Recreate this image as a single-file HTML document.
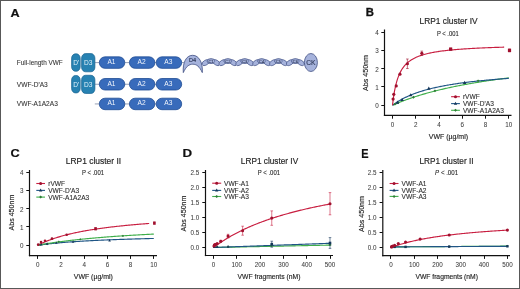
<!DOCTYPE html>
<html><head><meta charset="utf-8"><style>
html,body{margin:0;padding:0;background:#fff;}
body{width:520px;height:289px;overflow:hidden;font-family:"Liberation Sans", sans-serif;}
svg{display:block;will-change:transform;filter:blur(0.35px);}
</style></head><body>
<svg width="520" height="289" viewBox="0 0 520 289" font-family='"Liberation Sans", sans-serif'>
<rect x="0" y="0" width="520" height="289" fill="#ffffff"/>
<text x="10.40" y="16.50" font-size="11.8" text-anchor="start" font-weight="bold" font-style="normal" fill="#111" stroke="#111" stroke-width="0.2" textLength="9.15" lengthAdjust="spacingAndGlyphs" >A</text>
<text x="365.70" y="16.10" font-size="11.3" text-anchor="start" font-weight="bold" font-style="normal" fill="#111" stroke="#111" stroke-width="0.3" >B</text>
<text x="10.60" y="157.20" font-size="11.8" text-anchor="start" font-weight="bold" font-style="normal" fill="#111" stroke="#111" stroke-width="0.2" textLength="9.2" lengthAdjust="spacingAndGlyphs" >C</text>
<text x="182.60" y="156.90" font-size="11.8" text-anchor="start" font-weight="bold" font-style="normal" fill="#111" stroke="#111" stroke-width="0.2" textLength="9.6" lengthAdjust="spacingAndGlyphs" >D</text>
<text x="361.20" y="157.50" font-size="12.6" text-anchor="start" font-weight="bold" font-style="normal" fill="#111" stroke="#111" stroke-width="0.2" textLength="7.3" lengthAdjust="spacingAndGlyphs" >E</text>
<text x="16.80" y="64.50" font-size="6.8" text-anchor="start" font-weight="normal" font-style="normal" fill="#333" stroke="#333" stroke-width="0.08" textLength="45.9" lengthAdjust="spacingAndGlyphs" >Full-length VWF</text>
<text x="16.80" y="86.80" font-size="6.8" text-anchor="start" font-weight="normal" font-style="normal" fill="#333" stroke="#333" stroke-width="0.08" textLength="31" lengthAdjust="spacingAndGlyphs" >VWF-D'A3</text>
<text x="16.80" y="106.20" font-size="6.8" text-anchor="start" font-weight="normal" font-style="normal" fill="#333" stroke="#333" stroke-width="0.08" textLength="41" lengthAdjust="spacingAndGlyphs" >VWF-A1A2A3</text>
<line x1="94.50" y1="62.60" x2="99.50" y2="62.60" stroke="#6d7a98" stroke-width="0.7"/>
<line x1="94.50" y1="84.25" x2="99.50" y2="84.25" stroke="#6d7a98" stroke-width="0.7"/>
<line x1="94.80" y1="103.95" x2="99.50" y2="103.95" stroke="#6d7a98" stroke-width="0.7"/>
<line x1="124.50" y1="62.60" x2="129.50" y2="62.60" stroke="#6d7a98" stroke-width="0.7"/>
<line x1="154.50" y1="62.60" x2="156.50" y2="62.60" stroke="#6d7a98" stroke-width="0.7"/>
<line x1="124.50" y1="84.25" x2="129.50" y2="84.25" stroke="#6d7a98" stroke-width="0.7"/>
<line x1="154.50" y1="84.25" x2="156.50" y2="84.25" stroke="#6d7a98" stroke-width="0.7"/>
<line x1="124.50" y1="103.95" x2="129.50" y2="103.95" stroke="#6d7a98" stroke-width="0.7"/>
<line x1="154.50" y1="103.95" x2="156.50" y2="103.95" stroke="#6d7a98" stroke-width="0.7"/>
<line x1="181.50" y1="62.60" x2="184.00" y2="62.60" stroke="#6d7a98" stroke-width="0.7"/>
<rect x="71.60" y="53.80" width="8.60" height="17.50" rx="4" ry="4.5" fill="#2782b2" stroke="#17628f" stroke-width="0.7"/>
<text x="76.20" y="64.90" font-size="6.6" text-anchor="middle" font-weight="normal" font-style="normal" fill="#dff1fa" >D'</text>
<rect x="81.60" y="53.60" width="13.30" height="18.20" rx="4" ry="4.5" fill="#2782b2" stroke="#17628f" stroke-width="0.7"/>
<text x="88.25" y="65.05" font-size="6.6" text-anchor="middle" font-weight="normal" font-style="normal" fill="#dff1fa" >D3</text>
<rect x="99.30" y="56.85" width="25.50" height="11.50" rx="5.75" ry="5.75" fill="#386bbb" stroke="#1f4c94" stroke-width="0.8"/>
<text x="111.45" y="63.85" font-size="6.6" text-anchor="middle" font-weight="normal" font-style="normal" fill="#f2f6fc" >A1</text>
<rect x="129.40" y="56.85" width="25.50" height="11.50" rx="5.75" ry="5.75" fill="#386bbb" stroke="#1f4c94" stroke-width="0.8"/>
<text x="141.55" y="63.85" font-size="6.6" text-anchor="middle" font-weight="normal" font-style="normal" fill="#f2f6fc" >A2</text>
<rect x="156.20" y="56.85" width="25.50" height="11.50" rx="5.75" ry="5.75" fill="#386bbb" stroke="#1f4c94" stroke-width="0.8"/>
<text x="168.35" y="63.85" font-size="6.6" text-anchor="middle" font-weight="normal" font-style="normal" fill="#f2f6fc" >A3</text>
<rect x="71.60" y="75.45" width="8.60" height="17.50" rx="4" ry="4.5" fill="#2782b2" stroke="#17628f" stroke-width="0.7"/>
<text x="76.20" y="86.55" font-size="6.6" text-anchor="middle" font-weight="normal" font-style="normal" fill="#dff1fa" >D'</text>
<rect x="81.60" y="75.25" width="13.30" height="18.20" rx="4" ry="4.5" fill="#2782b2" stroke="#17628f" stroke-width="0.7"/>
<text x="88.25" y="86.70" font-size="6.6" text-anchor="middle" font-weight="normal" font-style="normal" fill="#dff1fa" >D3</text>
<rect x="99.30" y="78.50" width="25.50" height="11.50" rx="5.75" ry="5.75" fill="#386bbb" stroke="#1f4c94" stroke-width="0.8"/>
<text x="111.45" y="85.50" font-size="6.6" text-anchor="middle" font-weight="normal" font-style="normal" fill="#f2f6fc" >A1</text>
<rect x="129.40" y="78.50" width="25.50" height="11.50" rx="5.75" ry="5.75" fill="#386bbb" stroke="#1f4c94" stroke-width="0.8"/>
<text x="141.55" y="85.50" font-size="6.6" text-anchor="middle" font-weight="normal" font-style="normal" fill="#f2f6fc" >A2</text>
<rect x="156.20" y="78.50" width="25.50" height="11.50" rx="5.75" ry="5.75" fill="#386bbb" stroke="#1f4c94" stroke-width="0.8"/>
<text x="168.35" y="85.50" font-size="6.6" text-anchor="middle" font-weight="normal" font-style="normal" fill="#f2f6fc" >A3</text>
<rect x="99.30" y="98.20" width="25.50" height="11.50" rx="5.75" ry="5.75" fill="#386bbb" stroke="#1f4c94" stroke-width="0.8"/>
<text x="111.45" y="105.20" font-size="6.6" text-anchor="middle" font-weight="normal" font-style="normal" fill="#f2f6fc" >A1</text>
<rect x="129.40" y="98.20" width="25.50" height="11.50" rx="5.75" ry="5.75" fill="#386bbb" stroke="#1f4c94" stroke-width="0.8"/>
<text x="141.55" y="105.20" font-size="6.6" text-anchor="middle" font-weight="normal" font-style="normal" fill="#f2f6fc" >A2</text>
<rect x="156.20" y="98.20" width="25.50" height="11.50" rx="5.75" ry="5.75" fill="#386bbb" stroke="#1f4c94" stroke-width="0.8"/>
<text x="168.35" y="105.20" font-size="6.6" text-anchor="middle" font-weight="normal" font-style="normal" fill="#f2f6fc" >A3</text>
<path d="M183.3,72.6 C182.5,63 186,55.3 192.6,55.3 C199.2,55.3 203,63 202.3,72.6 C199.5,66.5 196.5,64.2 192.8,64.2 C189.1,64.2 186.1,66.5 183.3,72.6 Z" fill="#a6b3dc" stroke="#3f4e82" stroke-width="0.8"/>
<text x="192.60" y="62.30" font-size="5.6" text-anchor="middle" font-weight="normal" font-style="normal" fill="#2e3858" stroke="#2e3858" stroke-width="0.16" >D4</text>
<ellipse cx="205.71" cy="62.63" rx="4.0" ry="2.35" transform="rotate(-29.8 205.71 62.63)" fill="#a6b3dc" stroke="#3f4e82" stroke-width="0.65"/>
<ellipse cx="211.03" cy="61.10" rx="4.0" ry="2.35" transform="rotate(0.0 211.03 61.10)" fill="#a6b3dc" stroke="#3f4e82" stroke-width="0.65"/>
<ellipse cx="216.36" cy="62.63" rx="4.0" ry="2.35" transform="rotate(29.8 216.36 62.63)" fill="#a6b3dc" stroke="#3f4e82" stroke-width="0.65"/>
<ellipse cx="211.03" cy="61.10" rx="3.8" ry="2.25" transform="rotate(0.0 211.03 61.10)" fill="#a6b3dc" stroke="#3f4e82" stroke-width="0.55"/>
<text x="211.03" y="62.50" font-size="4.0" text-anchor="middle" font-weight="normal" font-style="normal" fill="#2e3858" stroke="#2e3858" stroke-width="0.08" >C1</text>
<ellipse cx="222.57" cy="62.63" rx="4.0" ry="2.35" transform="rotate(-29.8 222.57 62.63)" fill="#a6b3dc" stroke="#3f4e82" stroke-width="0.65"/>
<ellipse cx="227.90" cy="61.10" rx="4.0" ry="2.35" transform="rotate(0.0 227.90 61.10)" fill="#a6b3dc" stroke="#3f4e82" stroke-width="0.65"/>
<ellipse cx="233.23" cy="62.63" rx="4.0" ry="2.35" transform="rotate(29.8 233.23 62.63)" fill="#a6b3dc" stroke="#3f4e82" stroke-width="0.65"/>
<ellipse cx="227.90" cy="61.10" rx="3.8" ry="2.25" transform="rotate(0.0 227.90 61.10)" fill="#a6b3dc" stroke="#3f4e82" stroke-width="0.55"/>
<text x="227.90" y="62.50" font-size="4.0" text-anchor="middle" font-weight="normal" font-style="normal" fill="#2e3858" stroke="#2e3858" stroke-width="0.08" >C2</text>
<ellipse cx="239.44" cy="62.63" rx="4.0" ry="2.35" transform="rotate(-29.8 239.44 62.63)" fill="#a6b3dc" stroke="#3f4e82" stroke-width="0.65"/>
<ellipse cx="244.77" cy="61.10" rx="4.0" ry="2.35" transform="rotate(0.0 244.77 61.10)" fill="#a6b3dc" stroke="#3f4e82" stroke-width="0.65"/>
<ellipse cx="250.09" cy="62.63" rx="4.0" ry="2.35" transform="rotate(29.8 250.09 62.63)" fill="#a6b3dc" stroke="#3f4e82" stroke-width="0.65"/>
<ellipse cx="244.77" cy="61.10" rx="3.8" ry="2.25" transform="rotate(0.0 244.77 61.10)" fill="#a6b3dc" stroke="#3f4e82" stroke-width="0.55"/>
<text x="244.77" y="62.50" font-size="4.0" text-anchor="middle" font-weight="normal" font-style="normal" fill="#2e3858" stroke="#2e3858" stroke-width="0.08" >C3</text>
<ellipse cx="256.31" cy="62.63" rx="4.0" ry="2.35" transform="rotate(-29.8 256.31 62.63)" fill="#a6b3dc" stroke="#3f4e82" stroke-width="0.65"/>
<ellipse cx="261.63" cy="61.10" rx="4.0" ry="2.35" transform="rotate(0.0 261.63 61.10)" fill="#a6b3dc" stroke="#3f4e82" stroke-width="0.65"/>
<ellipse cx="266.96" cy="62.63" rx="4.0" ry="2.35" transform="rotate(29.8 266.96 62.63)" fill="#a6b3dc" stroke="#3f4e82" stroke-width="0.65"/>
<ellipse cx="261.63" cy="61.10" rx="3.8" ry="2.25" transform="rotate(0.0 261.63 61.10)" fill="#a6b3dc" stroke="#3f4e82" stroke-width="0.55"/>
<text x="261.63" y="62.50" font-size="4.0" text-anchor="middle" font-weight="normal" font-style="normal" fill="#2e3858" stroke="#2e3858" stroke-width="0.08" >C4</text>
<ellipse cx="273.17" cy="62.63" rx="4.0" ry="2.35" transform="rotate(-29.8 273.17 62.63)" fill="#a6b3dc" stroke="#3f4e82" stroke-width="0.65"/>
<ellipse cx="278.50" cy="61.10" rx="4.0" ry="2.35" transform="rotate(0.0 278.50 61.10)" fill="#a6b3dc" stroke="#3f4e82" stroke-width="0.65"/>
<ellipse cx="283.83" cy="62.63" rx="4.0" ry="2.35" transform="rotate(29.8 283.83 62.63)" fill="#a6b3dc" stroke="#3f4e82" stroke-width="0.65"/>
<ellipse cx="278.50" cy="61.10" rx="3.8" ry="2.25" transform="rotate(0.0 278.50 61.10)" fill="#a6b3dc" stroke="#3f4e82" stroke-width="0.55"/>
<text x="278.50" y="62.50" font-size="4.0" text-anchor="middle" font-weight="normal" font-style="normal" fill="#2e3858" stroke="#2e3858" stroke-width="0.08" >C5</text>
<ellipse cx="290.04" cy="62.63" rx="4.0" ry="2.35" transform="rotate(-29.8 290.04 62.63)" fill="#a6b3dc" stroke="#3f4e82" stroke-width="0.65"/>
<ellipse cx="295.37" cy="61.10" rx="4.0" ry="2.35" transform="rotate(0.0 295.37 61.10)" fill="#a6b3dc" stroke="#3f4e82" stroke-width="0.65"/>
<ellipse cx="300.69" cy="62.63" rx="4.0" ry="2.35" transform="rotate(29.8 300.69 62.63)" fill="#a6b3dc" stroke="#3f4e82" stroke-width="0.65"/>
<ellipse cx="295.37" cy="61.10" rx="3.8" ry="2.25" transform="rotate(0.0 295.37 61.10)" fill="#a6b3dc" stroke="#3f4e82" stroke-width="0.55"/>
<text x="295.37" y="62.50" font-size="4.0" text-anchor="middle" font-weight="normal" font-style="normal" fill="#2e3858" stroke="#2e3858" stroke-width="0.08" >C6</text>
<ellipse cx="310.9" cy="62.5" rx="6.5" ry="9.0" fill="#a6b3dc" stroke="#3f4e82" stroke-width="0.8"/>
<text x="310.80" y="64.60" font-size="6.4" text-anchor="middle" font-weight="normal" font-style="normal" fill="#2e3858" stroke="#2e3858" stroke-width="0.12" textLength="9.3" lengthAdjust="spacingAndGlyphs" >CK</text>
<text x="448.60" y="24.40" font-size="8.4" text-anchor="middle" font-weight="normal" font-style="normal" fill="#262626" stroke="#262626" stroke-width="0.17" textLength="58.0" lengthAdjust="spacingAndGlyphs" >LRP1 cluster IV</text>
<text x="436.9" y="35.6" font-size="6.6" fill="#262626" stroke="#262626" stroke-width="0.1" textLength="21.8" lengthAdjust="spacingAndGlyphs"><tspan>P</tspan> &lt; .001</text>
<line x1="384.50" y1="29.50" x2="384.50" y2="116.00" stroke="#111111" stroke-width="1.2"/>
<line x1="383.90" y1="115.40" x2="511.50" y2="115.40" stroke="#111111" stroke-width="1.2"/>
<line x1="381.30" y1="105.50" x2="384.50" y2="105.50" stroke="#111111" stroke-width="1.0"/>
<text x="378.80" y="108.20" font-size="6.3" text-anchor="end" font-weight="normal" font-style="normal" fill="#3a3a3a" stroke="#3a3a3a" stroke-width="0.04" >0</text>
<line x1="381.30" y1="86.50" x2="384.50" y2="86.50" stroke="#111111" stroke-width="1.0"/>
<text x="378.80" y="89.90" font-size="6.3" text-anchor="end" font-weight="normal" font-style="normal" fill="#3a3a3a" stroke="#3a3a3a" stroke-width="0.04" >1</text>
<line x1="381.30" y1="68.50" x2="384.50" y2="68.50" stroke="#111111" stroke-width="1.0"/>
<text x="378.80" y="71.60" font-size="6.3" text-anchor="end" font-weight="normal" font-style="normal" fill="#3a3a3a" stroke="#3a3a3a" stroke-width="0.04" >2</text>
<line x1="381.30" y1="50.50" x2="384.50" y2="50.50" stroke="#111111" stroke-width="1.0"/>
<text x="378.80" y="53.30" font-size="6.3" text-anchor="end" font-weight="normal" font-style="normal" fill="#3a3a3a" stroke="#3a3a3a" stroke-width="0.04" >3</text>
<line x1="381.30" y1="32.50" x2="384.50" y2="32.50" stroke="#111111" stroke-width="1.0"/>
<text x="378.80" y="35.00" font-size="6.3" text-anchor="end" font-weight="normal" font-style="normal" fill="#3a3a3a" stroke="#3a3a3a" stroke-width="0.04" >4</text>
<line x1="392.50" y1="115.40" x2="392.50" y2="118.70" stroke="#111111" stroke-width="1.0"/>
<text x="392.50" y="126.90" font-size="6.3" text-anchor="middle" font-weight="normal" font-style="normal" fill="#3a3a3a" stroke="#3a3a3a" stroke-width="0.04" >0</text>
<line x1="415.50" y1="115.40" x2="415.50" y2="118.70" stroke="#111111" stroke-width="1.0"/>
<text x="415.76" y="126.90" font-size="6.3" text-anchor="middle" font-weight="normal" font-style="normal" fill="#3a3a3a" stroke="#3a3a3a" stroke-width="0.04" >2</text>
<line x1="439.50" y1="115.40" x2="439.50" y2="118.70" stroke="#111111" stroke-width="1.0"/>
<text x="439.02" y="126.90" font-size="6.3" text-anchor="middle" font-weight="normal" font-style="normal" fill="#3a3a3a" stroke="#3a3a3a" stroke-width="0.04" >4</text>
<line x1="462.50" y1="115.40" x2="462.50" y2="118.70" stroke="#111111" stroke-width="1.0"/>
<text x="462.28" y="126.90" font-size="6.3" text-anchor="middle" font-weight="normal" font-style="normal" fill="#3a3a3a" stroke="#3a3a3a" stroke-width="0.04" >6</text>
<line x1="485.50" y1="115.40" x2="485.50" y2="118.70" stroke="#111111" stroke-width="1.0"/>
<text x="485.54" y="126.90" font-size="6.3" text-anchor="middle" font-weight="normal" font-style="normal" fill="#3a3a3a" stroke="#3a3a3a" stroke-width="0.04" >8</text>
<line x1="508.50" y1="115.40" x2="508.50" y2="118.70" stroke="#111111" stroke-width="1.0"/>
<text x="508.80" y="126.90" font-size="6.3" text-anchor="middle" font-weight="normal" font-style="normal" fill="#3a3a3a" stroke="#3a3a3a" stroke-width="0.04" >10</text>
<text transform="translate(368.0,73.0) rotate(-90)" font-size="7.3" text-anchor="middle" fill="#262626" stroke="#262626" stroke-width="0.16" textLength="35.8" lengthAdjust="spacingAndGlyphs">Abs 450nm</text>
<text x="448.40" y="138.80" font-size="7.5" text-anchor="middle" font-weight="normal" font-style="normal" fill="#262626" stroke="#262626" stroke-width="0.16" textLength="39.3" lengthAdjust="spacingAndGlyphs" >VWF (µg/ml)</text>
<polyline points="392.50,105.30 393.47,104.87 394.44,104.45 395.41,104.03 396.38,103.62 397.35,103.22 398.31,102.82 399.28,102.43 400.25,102.04 401.22,101.66 402.19,101.28 403.16,100.91 404.13,100.54 405.10,100.18 406.07,99.82 407.04,99.47 408.01,99.12 408.98,98.78 409.94,98.44 410.91,98.11 411.88,97.78 412.85,97.45 413.82,97.13 414.79,96.82 415.76,96.50 416.73,96.19 417.70,95.89 418.67,95.59 419.64,95.29 420.61,94.99 421.57,94.70 422.54,94.42 423.51,94.13 424.48,93.85 425.45,93.58 426.42,93.30 427.39,93.03 428.36,92.76 429.33,92.50 430.30,92.24 431.27,91.98 432.24,91.72 433.20,91.47 434.17,91.22 435.14,90.98 436.11,90.73 437.08,90.49 438.05,90.25 439.02,90.02 439.99,89.78 440.96,89.55 441.93,89.32 442.90,89.10 443.87,88.87 444.83,88.65 445.80,88.43 446.77,88.22 447.74,88.00 448.71,87.79 449.68,87.58 450.65,87.37 451.62,87.17 452.59,86.96 453.56,86.76 454.53,86.56 455.50,86.36 456.47,86.17 457.43,85.98 458.40,85.78 459.37,85.59 460.34,85.41 461.31,85.22 462.28,85.04 463.25,84.85 464.22,84.67 465.19,84.49 466.16,84.32 467.13,84.14 468.10,83.97 469.06,83.79 470.03,83.62 471.00,83.45 471.97,83.29 472.94,83.12 473.91,82.95 474.88,82.79 475.85,82.63 476.82,82.47 477.79,82.31 478.76,82.15 479.73,82.00 480.69,81.84 481.66,81.69 482.63,81.54 483.60,81.39 484.57,81.24 485.54,81.09 486.51,80.94 487.48,80.80 488.45,80.65 489.42,80.51 490.39,80.37 491.36,80.23 492.32,80.09 493.29,79.95 494.26,79.81 495.23,79.68 496.20,79.54 497.17,79.41 498.14,79.28 499.11,79.15 500.08,79.02 501.05,78.89 502.02,78.76 502.99,78.63 503.95,78.51 504.92,78.38 505.89,78.26 506.86,78.13 507.83,78.01 508.80,77.89" fill="none" stroke="#3fae4a" stroke-width="1.15"/>
<polyline points="392.50,105.30 393.47,104.57 394.44,103.87 395.41,103.20 396.38,102.55 397.35,101.92 398.31,101.31 399.28,100.72 400.25,100.16 401.22,99.61 402.19,99.08 403.16,98.57 404.13,98.07 405.10,97.59 406.07,97.12 407.04,96.67 408.01,96.23 408.98,95.80 409.94,95.38 410.91,94.98 411.88,94.59 412.85,94.20 413.82,93.83 414.79,93.47 415.76,93.12 416.73,92.78 417.70,92.44 418.67,92.12 419.64,91.80 420.61,91.49 421.57,91.19 422.54,90.89 423.51,90.60 424.48,90.32 425.45,90.05 426.42,89.78 427.39,89.52 428.36,89.26 429.33,89.01 430.30,88.77 431.27,88.53 432.24,88.29 433.20,88.06 434.17,87.84 435.14,87.62 436.11,87.40 437.08,87.19 438.05,86.98 439.02,86.78 439.99,86.58 440.96,86.39 441.93,86.20 442.90,86.01 443.87,85.82 444.83,85.64 445.80,85.47 446.77,85.29 447.74,85.12 448.71,84.96 449.68,84.79 450.65,84.63 451.62,84.47 452.59,84.31 453.56,84.16 454.53,84.01 455.50,83.86 456.47,83.72 457.43,83.57 458.40,83.43 459.37,83.30 460.34,83.16 461.31,83.03 462.28,82.89 463.25,82.76 464.22,82.64 465.19,82.51 466.16,82.39 467.13,82.27 468.10,82.15 469.06,82.03 470.03,81.91 471.00,81.80 471.97,81.69 472.94,81.57 473.91,81.46 474.88,81.36 475.85,81.25 476.82,81.15 477.79,81.04 478.76,80.94 479.73,80.84 480.69,80.74 481.66,80.64 482.63,80.55 483.60,80.45 484.57,80.36 485.54,80.27 486.51,80.18 487.48,80.09 488.45,80.00 489.42,79.91 490.39,79.82 491.36,79.74 492.32,79.65 493.29,79.57 494.26,79.49 495.23,79.41 496.20,79.33 497.17,79.25 498.14,79.17 499.11,79.09 500.08,79.02 501.05,78.94 502.02,78.87 502.99,78.80 503.95,78.72 504.92,78.65 505.89,78.58 506.86,78.51 507.83,78.44 508.80,78.37" fill="none" stroke="#1f5585" stroke-width="1.15"/>
<polyline points="392.50,105.30 393.43,97.82 394.36,91.97 395.29,87.25 396.22,83.37 397.15,80.13 398.08,77.37 399.01,75.01 399.94,72.95 400.87,71.14 401.80,69.55 402.73,68.13 403.66,66.86 404.60,65.71 405.53,64.67 406.46,63.72 407.39,62.86 408.32,62.07 409.25,61.34 410.18,60.66 411.11,60.04 412.04,59.46 412.97,58.91 413.90,58.41 414.83,57.94 415.76,57.49 416.69,57.08 417.62,56.68 418.55,56.31 419.48,55.96 420.41,55.63 421.34,55.32 422.27,55.02 423.20,54.74 424.13,54.47 425.06,54.21 425.99,53.97 426.92,53.73 427.86,53.51 428.79,53.30 429.72,53.09 430.65,52.90 431.58,52.71 432.51,52.53 433.44,52.35 434.37,52.19 435.30,52.03 436.23,51.87 437.16,51.72 438.09,51.58 439.02,51.44 439.95,51.30 440.88,51.18 441.81,51.05 442.74,50.93 443.67,50.81 444.60,50.70 445.53,50.59 446.46,50.48 447.39,50.38 448.32,50.28 449.25,50.18 450.18,50.09 451.12,49.99 452.05,49.90 452.98,49.82 453.91,49.73 454.84,49.65 455.77,49.57 456.70,49.49 457.63,49.42 458.56,49.34 459.49,49.27 460.42,49.20 461.35,49.13 462.28,49.07 463.21,49.00 464.14,48.94 465.07,48.87 466.00,48.81 466.93,48.75 467.86,48.70 468.79,48.64 469.72,48.58 470.65,48.53 471.58,48.48 472.51,48.42 473.44,48.37 474.38,48.32 475.31,48.27 476.24,48.23 477.17,48.18 478.10,48.13 479.03,48.09 479.96,48.04 480.89,48.00 481.82,47.96 482.75,47.92 483.68,47.88 484.61,47.84 485.54,47.80 486.47,47.76 487.40,47.72 488.33,47.68 489.26,47.65 490.19,47.61 491.12,47.58 492.05,47.54 492.98,47.51 493.91,47.48 494.84,47.44 495.77,47.41 496.70,47.38 497.64,47.35 498.57,47.32 499.50,47.29 500.43,47.26 501.36,47.23 502.29,47.20 503.22,47.17 504.15,47.14" fill="none" stroke="#c81e40" stroke-width="1.15"/>
<polygon points="394.94,102.80 396.34,104.20 394.94,105.60 393.54,104.20" fill="#2e7d36"/>
<polygon points="397.97,101.34 399.37,102.74 397.97,104.14 396.57,102.74" fill="#2e7d36"/>
<polygon points="413.43,95.85 414.83,97.25 413.43,98.65 412.03,97.25" fill="#2e7d36"/>
<polygon points="434.95,89.44 436.35,90.84 434.95,92.24 433.55,90.84" fill="#2e7d36"/>
<polygon points="478.10,79.38 479.50,80.78 478.10,82.18 476.70,80.78" fill="#2e7d36"/>
<polygon points="397.50,100.45 399.26,103.65 395.74,103.65" fill="#15375a"/>
<polygon points="402.15,97.89 403.91,101.09 400.39,101.09" fill="#15375a"/>
<polygon points="410.76,93.13 412.52,96.33 409.00,96.33" fill="#15375a"/>
<polygon points="428.79,86.54 430.55,89.74 427.03,89.74" fill="#15375a"/>
<polygon points="464.61,80.69 466.37,83.89 462.85,83.89" fill="#15375a"/>
<circle cx="393.08" cy="99.08" r="1.6" fill="#a0102e"/>
<circle cx="393.78" cy="94.32" r="1.6" fill="#a0102e"/>
<circle cx="396.22" cy="85.90" r="1.6" fill="#a0102e"/>
<circle cx="399.94" cy="74.19" r="1.6" fill="#a0102e"/>
<line x1="407.39" y1="59.00" x2="407.39" y2="68.52" stroke="#a0102e" stroke-width="0.6"/>
<line x1="406.09" y1="59.00" x2="408.69" y2="59.00" stroke="#a0102e" stroke-width="0.6"/>
<line x1="406.09" y1="68.52" x2="408.69" y2="68.52" stroke="#a0102e" stroke-width="0.6"/>
<circle cx="407.39" cy="63.76" r="1.6" fill="#a0102e"/>
<line x1="421.81" y1="51.13" x2="421.81" y2="55.52" stroke="#a0102e" stroke-width="0.6"/>
<line x1="420.51" y1="51.13" x2="423.11" y2="51.13" stroke="#a0102e" stroke-width="0.6"/>
<line x1="420.51" y1="55.52" x2="423.11" y2="55.52" stroke="#a0102e" stroke-width="0.6"/>
<circle cx="421.81" cy="53.33" r="1.6" fill="#a0102e"/>
<line x1="450.65" y1="48.20" x2="450.65" y2="50.03" stroke="#a0102e" stroke-width="0.6"/>
<line x1="449.35" y1="48.20" x2="451.95" y2="48.20" stroke="#a0102e" stroke-width="0.6"/>
<line x1="449.35" y1="50.03" x2="451.95" y2="50.03" stroke="#a0102e" stroke-width="0.6"/>
<rect x="449.05" y="47.52" width="3.2" height="3.2" fill="#a0102e"/>
<line x1="509.50" y1="48.94" x2="509.50" y2="51.86" stroke="#a0102e" stroke-width="0.6"/>
<line x1="508.20" y1="48.94" x2="510.80" y2="48.94" stroke="#a0102e" stroke-width="0.6"/>
<line x1="508.20" y1="51.86" x2="510.80" y2="51.86" stroke="#a0102e" stroke-width="0.6"/>
<rect x="507.90" y="48.80" width="3.2" height="3.2" fill="#a0102e"/>
<line x1="451.10" y1="96.70" x2="459.90" y2="96.70" stroke="#c81e40" stroke-width="1.1"/>
<circle cx="455.50" cy="96.70" r="1.5" fill="#a0102e"/>
<text x="462.90" y="99.10" font-size="6.6" text-anchor="start" font-weight="normal" font-style="normal" fill="#2e2e2e" stroke="#2e2e2e" stroke-width="0.1" >rVWF</text>
<line x1="451.10" y1="103.60" x2="459.90" y2="103.60" stroke="#1f5585" stroke-width="1.1"/>
<polygon points="455.50,101.80 457.15,104.80 453.85,104.80" fill="#15375a"/>
<text x="462.90" y="106.00" font-size="6.6" text-anchor="start" font-weight="normal" font-style="normal" fill="#2e2e2e" stroke="#2e2e2e" stroke-width="0.1" >VWF-D'A3</text>
<line x1="451.10" y1="110.30" x2="459.90" y2="110.30" stroke="#3fae4a" stroke-width="1.1"/>
<polygon points="455.50,108.80 457.00,110.30 455.50,111.80 454.00,110.30" fill="#2e7d36"/>
<text x="462.90" y="112.70" font-size="6.6" text-anchor="start" font-weight="normal" font-style="normal" fill="#2e2e2e" stroke="#2e2e2e" stroke-width="0.1" >VWF-A1A2A3</text>
<text x="93.50" y="164.40" font-size="8.4" text-anchor="middle" font-weight="normal" font-style="normal" fill="#262626" stroke="#262626" stroke-width="0.17" textLength="55.3" lengthAdjust="spacingAndGlyphs" >LRP1 cluster II</text>
<text x="81.9" y="175.4" font-size="6.6" fill="#262626" stroke="#262626" stroke-width="0.1" textLength="22.1" lengthAdjust="spacingAndGlyphs"><tspan>P</tspan> &lt; .001</text>
<line x1="29.50" y1="170.00" x2="29.50" y2="256.20" stroke="#111111" stroke-width="1.2"/>
<line x1="28.90" y1="255.60" x2="157.00" y2="255.60" stroke="#111111" stroke-width="1.2"/>
<line x1="26.30" y1="245.50" x2="29.50" y2="245.50" stroke="#111111" stroke-width="1.0"/>
<text x="23.60" y="248.10" font-size="6.3" text-anchor="end" font-weight="normal" font-style="normal" fill="#3a3a3a" stroke="#3a3a3a" stroke-width="0.04" >0</text>
<line x1="26.30" y1="226.50" x2="29.50" y2="226.50" stroke="#111111" stroke-width="1.0"/>
<text x="23.60" y="229.85" font-size="6.3" text-anchor="end" font-weight="normal" font-style="normal" fill="#3a3a3a" stroke="#3a3a3a" stroke-width="0.04" >1</text>
<line x1="26.30" y1="208.50" x2="29.50" y2="208.50" stroke="#111111" stroke-width="1.0"/>
<text x="23.60" y="211.60" font-size="6.3" text-anchor="end" font-weight="normal" font-style="normal" fill="#3a3a3a" stroke="#3a3a3a" stroke-width="0.04" >2</text>
<line x1="26.30" y1="190.50" x2="29.50" y2="190.50" stroke="#111111" stroke-width="1.0"/>
<text x="23.60" y="193.35" font-size="6.3" text-anchor="end" font-weight="normal" font-style="normal" fill="#3a3a3a" stroke="#3a3a3a" stroke-width="0.04" >3</text>
<line x1="26.30" y1="172.50" x2="29.50" y2="172.50" stroke="#111111" stroke-width="1.0"/>
<text x="23.60" y="175.10" font-size="6.3" text-anchor="end" font-weight="normal" font-style="normal" fill="#3a3a3a" stroke="#3a3a3a" stroke-width="0.04" >4</text>
<line x1="37.50" y1="255.60" x2="37.50" y2="258.90" stroke="#111111" stroke-width="1.0"/>
<text x="37.80" y="267.30" font-size="6.3" text-anchor="middle" font-weight="normal" font-style="normal" fill="#3a3a3a" stroke="#3a3a3a" stroke-width="0.04" >0</text>
<line x1="60.50" y1="255.60" x2="60.50" y2="258.90" stroke="#111111" stroke-width="1.0"/>
<text x="61.00" y="267.30" font-size="6.3" text-anchor="middle" font-weight="normal" font-style="normal" fill="#3a3a3a" stroke="#3a3a3a" stroke-width="0.04" >2</text>
<line x1="84.50" y1="255.60" x2="84.50" y2="258.90" stroke="#111111" stroke-width="1.0"/>
<text x="84.20" y="267.30" font-size="6.3" text-anchor="middle" font-weight="normal" font-style="normal" fill="#3a3a3a" stroke="#3a3a3a" stroke-width="0.04" >4</text>
<line x1="107.50" y1="255.60" x2="107.50" y2="258.90" stroke="#111111" stroke-width="1.0"/>
<text x="107.40" y="267.30" font-size="6.3" text-anchor="middle" font-weight="normal" font-style="normal" fill="#3a3a3a" stroke="#3a3a3a" stroke-width="0.04" >6</text>
<line x1="130.50" y1="255.60" x2="130.50" y2="258.90" stroke="#111111" stroke-width="1.0"/>
<text x="130.60" y="267.30" font-size="6.3" text-anchor="middle" font-weight="normal" font-style="normal" fill="#3a3a3a" stroke="#3a3a3a" stroke-width="0.04" >8</text>
<line x1="153.50" y1="255.60" x2="153.50" y2="258.90" stroke="#111111" stroke-width="1.0"/>
<text x="153.80" y="267.30" font-size="6.3" text-anchor="middle" font-weight="normal" font-style="normal" fill="#3a3a3a" stroke="#3a3a3a" stroke-width="0.04" >10</text>
<text transform="translate(13.5,212.6) rotate(-90)" font-size="7.3" text-anchor="middle" fill="#262626" stroke="#262626" stroke-width="0.16" textLength="35.8" lengthAdjust="spacingAndGlyphs">Abs 450nm</text>
<text x="93.30" y="278.80" font-size="7.5" text-anchor="middle" font-weight="normal" font-style="normal" fill="#262626" stroke="#262626" stroke-width="0.16" textLength="39.1" lengthAdjust="spacingAndGlyphs" >VWF (µg/ml)</text>
<polyline points="37.80,245.20 38.77,245.07 39.73,244.93 40.70,244.81 41.67,244.68 42.63,244.56 43.60,244.44 44.57,244.32 45.53,244.21 46.50,244.09 47.47,243.98 48.43,243.88 49.40,243.77 50.37,243.67 51.33,243.57 52.30,243.47 53.27,243.37 54.23,243.28 55.20,243.18 56.17,243.09 57.13,243.00 58.10,242.91 59.07,242.83 60.03,242.74 61.00,242.66 61.97,242.58 62.93,242.50 63.90,242.42 64.87,242.34 65.83,242.26 66.80,242.19 67.77,242.12 68.73,242.04 69.70,241.97 70.67,241.90 71.63,241.84 72.60,241.77 73.57,241.70 74.53,241.64 75.50,241.57 76.47,241.51 77.43,241.45 78.40,241.39 79.37,241.33 80.33,241.27 81.30,241.21 82.27,241.15 83.23,241.09 84.20,241.04 85.17,240.98 86.13,240.93 87.10,240.88 88.07,240.82 89.03,240.77 90.00,240.72 90.97,240.67 91.93,240.62 92.90,240.57 93.87,240.52 94.83,240.48 95.80,240.43 96.77,240.38 97.73,240.34 98.70,240.29 99.67,240.25 100.63,240.20 101.60,240.16 102.57,240.12 103.53,240.08 104.50,240.04 105.47,239.99 106.43,239.95 107.40,239.91 108.37,239.87 109.33,239.84 110.30,239.80 111.27,239.76 112.23,239.72 113.20,239.68 114.17,239.65 115.13,239.61 116.10,239.58 117.07,239.54 118.03,239.51 119.00,239.47 119.97,239.44 120.93,239.40 121.90,239.37 122.87,239.34 123.83,239.31 124.80,239.27 125.77,239.24 126.73,239.21 127.70,239.18 128.67,239.15 129.63,239.12 130.60,239.09 131.57,239.06 132.53,239.03 133.50,239.00 134.47,238.97 135.43,238.94 136.40,238.92 137.37,238.89 138.33,238.86 139.30,238.83 140.27,238.81 141.23,238.78 142.20,238.75 143.17,238.73 144.13,238.70 145.10,238.68 146.07,238.65 147.03,238.63 148.00,238.60 148.97,238.58 149.93,238.55 150.90,238.53 151.87,238.50 152.83,238.48 153.80,238.46" fill="none" stroke="#1f5585" stroke-width="1.15"/>
<polyline points="37.80,245.20 38.77,245.02 39.73,244.85 40.70,244.68 41.67,244.51 42.63,244.35 43.60,244.18 44.57,244.02 45.53,243.86 46.50,243.71 47.47,243.55 48.43,243.40 49.40,243.25 50.37,243.10 51.33,242.95 52.30,242.81 53.27,242.67 54.23,242.53 55.20,242.39 56.17,242.25 57.13,242.12 58.10,241.99 59.07,241.86 60.03,241.73 61.00,241.60 61.97,241.47 62.93,241.35 63.90,241.22 64.87,241.10 65.83,240.98 66.80,240.86 67.77,240.75 68.73,240.63 69.70,240.52 70.67,240.41 71.63,240.29 72.60,240.18 73.57,240.07 74.53,239.97 75.50,239.86 76.47,239.76 77.43,239.65 78.40,239.55 79.37,239.45 80.33,239.35 81.30,239.25 82.27,239.15 83.23,239.05 84.20,238.96 85.17,238.86 86.13,238.77 87.10,238.68 88.07,238.59 89.03,238.49 90.00,238.40 90.97,238.32 91.93,238.23 92.90,238.14 93.87,238.06 94.83,237.97 95.80,237.89 96.77,237.80 97.73,237.72 98.70,237.64 99.67,237.56 100.63,237.48 101.60,237.40 102.57,237.32 103.53,237.24 104.50,237.17 105.47,237.09 106.43,237.02 107.40,236.94 108.37,236.87 109.33,236.79 110.30,236.72 111.27,236.65 112.23,236.58 113.20,236.51 114.17,236.44 115.13,236.37 116.10,236.30 117.07,236.23 118.03,236.17 119.00,236.10 119.97,236.03 120.93,235.97 121.90,235.90 122.87,235.84 123.83,235.78 124.80,235.71 125.77,235.65 126.73,235.59 127.70,235.53 128.67,235.47 129.63,235.41 130.60,235.35 131.57,235.29 132.53,235.23 133.50,235.17 134.47,235.12 135.43,235.06 136.40,235.00 137.37,234.95 138.33,234.89 139.30,234.83 140.27,234.78 141.23,234.73 142.20,234.67 143.17,234.62 144.13,234.57 145.10,234.51 146.07,234.46 147.03,234.41 148.00,234.36 148.97,234.31 149.93,234.26 150.90,234.21 151.87,234.16 152.83,234.11 153.80,234.06" fill="none" stroke="#3fae4a" stroke-width="1.15"/>
<polyline points="37.80,245.20 38.73,244.73 39.66,244.27 40.58,243.83 41.51,243.40 42.44,242.97 43.37,242.56 44.30,242.16 45.22,241.77 46.15,241.38 47.08,241.01 48.01,240.65 48.94,240.29 49.86,239.94 50.79,239.60 51.72,239.27 52.65,238.95 53.58,238.63 54.50,238.32 55.43,238.01 56.36,237.72 57.29,237.42 58.22,237.14 59.14,236.86 60.07,236.59 61.00,236.32 61.93,236.05 62.86,235.80 63.78,235.54 64.71,235.30 65.64,235.05 66.57,234.82 67.50,234.58 68.42,234.35 69.35,234.13 70.28,233.91 71.21,233.69 72.14,233.48 73.06,233.27 73.99,233.06 74.92,232.86 75.85,232.66 76.78,232.47 77.70,232.27 78.63,232.09 79.56,231.90 80.49,231.72 81.42,231.54 82.34,231.36 83.27,231.19 84.20,231.02 85.13,230.85 86.06,230.69 86.98,230.52 87.91,230.36 88.84,230.21 89.77,230.05 90.70,229.90 91.62,229.75 92.55,229.60 93.48,229.45 94.41,229.31 95.34,229.17 96.26,229.03 97.19,228.89 98.12,228.76 99.05,228.62 99.98,228.49 100.90,228.36 101.83,228.23 102.76,228.11 103.69,227.98 104.62,227.86 105.54,227.74 106.47,227.62 107.40,227.50 108.33,227.39 109.26,227.27 110.18,227.16 111.11,227.05 112.04,226.94 112.97,226.83 113.90,226.72 114.82,226.61 115.75,226.51 116.68,226.40 117.61,226.30 118.54,226.20 119.46,226.10 120.39,226.00 121.32,225.91 122.25,225.81 123.18,225.71 124.10,225.62 125.03,225.53 125.96,225.44 126.89,225.35 127.82,225.26 128.74,225.17 129.67,225.08 130.60,225.00 131.53,224.91 132.46,224.83 133.38,224.74 134.31,224.66 135.24,224.58 136.17,224.50 137.10,224.42 138.02,224.34 138.95,224.26 139.88,224.18 140.81,224.11 141.74,224.03 142.66,223.96 143.59,223.88 144.52,223.81 145.45,223.74 146.38,223.67 147.30,223.59 148.23,223.52 149.16,223.46" fill="none" stroke="#c81e40" stroke-width="1.15"/>
<polygon points="40.12,243.45 41.32,244.65 40.12,245.85 38.92,244.65" fill="#2e7d36"/>
<polygon points="47.31,242.91 48.51,244.10 47.31,245.30 46.11,244.10" fill="#2e7d36"/>
<polygon points="58.80,240.53 60.00,241.73 58.80,242.93 57.60,241.73" fill="#2e7d36"/>
<polygon points="80.26,238.16 81.46,239.36 80.26,240.56 79.06,239.36" fill="#2e7d36"/>
<polygon points="122.94,234.69 124.14,235.89 122.94,237.09 121.74,235.89" fill="#2e7d36"/>
<polygon points="41.28,243.03 42.60,245.43 39.96,245.43" fill="#15375a"/>
<polygon points="47.08,242.30 48.40,244.70 45.76,244.70" fill="#15375a"/>
<polygon points="56.36,241.39 57.68,243.79 55.04,243.79" fill="#15375a"/>
<polygon points="73.06,240.29 74.38,242.69 71.74,242.69" fill="#15375a"/>
<polygon points="109.60,239.01 110.92,241.41 108.28,241.41" fill="#15375a"/>
<circle cx="38.15" cy="244.65" r="1.3" fill="#a0102e"/>
<circle cx="41.05" cy="242.10" r="1.3" fill="#a0102e"/>
<circle cx="44.99" cy="240.82" r="1.3" fill="#a0102e"/>
<circle cx="51.95" cy="238.63" r="1.3" fill="#a0102e"/>
<circle cx="66.68" cy="234.80" r="1.3" fill="#a0102e"/>
<line x1="95.57" y1="227.50" x2="95.57" y2="230.05" stroke="#a0102e" stroke-width="0.6"/>
<line x1="94.27" y1="227.50" x2="96.87" y2="227.50" stroke="#a0102e" stroke-width="0.6"/>
<line x1="94.27" y1="230.05" x2="96.87" y2="230.05" stroke="#a0102e" stroke-width="0.6"/>
<rect x="94.27" y="227.47" width="2.6" height="2.6" fill="#a0102e"/>
<line x1="154.38" y1="221.84" x2="154.38" y2="224.39" stroke="#a0102e" stroke-width="0.6"/>
<line x1="153.08" y1="221.84" x2="155.68" y2="221.84" stroke="#a0102e" stroke-width="0.6"/>
<line x1="153.08" y1="224.39" x2="155.68" y2="224.39" stroke="#a0102e" stroke-width="0.6"/>
<rect x="153.08" y="221.82" width="2.6" height="2.6" fill="#a0102e"/>
<line x1="36.30" y1="183.50" x2="45.00" y2="183.50" stroke="#c81e40" stroke-width="1.1"/>
<circle cx="40.65" cy="183.50" r="1.5" fill="#a0102e"/>
<text x="48.20" y="185.90" font-size="6.6" text-anchor="start" font-weight="normal" font-style="normal" fill="#2e2e2e" stroke="#2e2e2e" stroke-width="0.1" >rVWF</text>
<line x1="36.30" y1="190.40" x2="45.00" y2="190.40" stroke="#1f5585" stroke-width="1.1"/>
<polygon points="40.65,188.60 42.30,191.60 39.00,191.60" fill="#15375a"/>
<text x="48.20" y="192.80" font-size="6.6" text-anchor="start" font-weight="normal" font-style="normal" fill="#2e2e2e" stroke="#2e2e2e" stroke-width="0.1" >VWF-D'A3</text>
<line x1="36.30" y1="197.10" x2="45.00" y2="197.10" stroke="#3fae4a" stroke-width="1.1"/>
<polygon points="40.65,195.60 42.15,197.10 40.65,198.60 39.15,197.10" fill="#2e7d36"/>
<text x="48.20" y="199.50" font-size="6.6" text-anchor="start" font-weight="normal" font-style="normal" fill="#2e2e2e" stroke="#2e2e2e" stroke-width="0.1" >VWF-A1A2A3</text>
<text x="269.50" y="164.40" font-size="8.4" text-anchor="middle" font-weight="normal" font-style="normal" fill="#262626" stroke="#262626" stroke-width="0.17" textLength="57.3" lengthAdjust="spacingAndGlyphs" >LRP1 cluster IV</text>
<text x="257.8" y="175.4" font-size="6.6" fill="#262626" stroke="#262626" stroke-width="0.1" textLength="22.2" lengthAdjust="spacingAndGlyphs"><tspan>P</tspan> &lt; .001</text>
<line x1="205.50" y1="170.00" x2="205.50" y2="256.10" stroke="#111111" stroke-width="1.2"/>
<line x1="204.90" y1="255.50" x2="333.00" y2="255.50" stroke="#111111" stroke-width="1.2"/>
<line x1="202.30" y1="247.50" x2="205.50" y2="247.50" stroke="#111111" stroke-width="1.0"/>
<text x="199.30" y="250.40" font-size="6.3" text-anchor="end" font-weight="normal" font-style="normal" fill="#3a3a3a" stroke="#3a3a3a" stroke-width="0.04" >0.0</text>
<line x1="202.30" y1="232.50" x2="205.50" y2="232.50" stroke="#111111" stroke-width="1.0"/>
<text x="199.30" y="235.40" font-size="6.3" text-anchor="end" font-weight="normal" font-style="normal" fill="#3a3a3a" stroke="#3a3a3a" stroke-width="0.04" >0.5</text>
<line x1="202.30" y1="217.50" x2="205.50" y2="217.50" stroke="#111111" stroke-width="1.0"/>
<text x="199.30" y="220.40" font-size="6.3" text-anchor="end" font-weight="normal" font-style="normal" fill="#3a3a3a" stroke="#3a3a3a" stroke-width="0.04" >1.0</text>
<line x1="202.30" y1="202.50" x2="205.50" y2="202.50" stroke="#111111" stroke-width="1.0"/>
<text x="199.30" y="205.40" font-size="6.3" text-anchor="end" font-weight="normal" font-style="normal" fill="#3a3a3a" stroke="#3a3a3a" stroke-width="0.04" >1.5</text>
<line x1="202.30" y1="187.50" x2="205.50" y2="187.50" stroke="#111111" stroke-width="1.0"/>
<text x="199.30" y="190.40" font-size="6.3" text-anchor="end" font-weight="normal" font-style="normal" fill="#3a3a3a" stroke="#3a3a3a" stroke-width="0.04" >2.0</text>
<line x1="202.30" y1="172.50" x2="205.50" y2="172.50" stroke="#111111" stroke-width="1.0"/>
<text x="199.30" y="175.40" font-size="6.3" text-anchor="end" font-weight="normal" font-style="normal" fill="#3a3a3a" stroke="#3a3a3a" stroke-width="0.04" >2.5</text>
<line x1="213.50" y1="255.50" x2="213.50" y2="258.80" stroke="#111111" stroke-width="1.0"/>
<text x="213.50" y="267.20" font-size="6.3" text-anchor="middle" font-weight="normal" font-style="normal" fill="#3a3a3a" stroke="#3a3a3a" stroke-width="0.04" >0</text>
<line x1="236.50" y1="255.50" x2="236.50" y2="258.80" stroke="#111111" stroke-width="1.0"/>
<text x="236.80" y="267.20" font-size="6.3" text-anchor="middle" font-weight="normal" font-style="normal" fill="#3a3a3a" stroke="#3a3a3a" stroke-width="0.04" >100</text>
<line x1="260.50" y1="255.50" x2="260.50" y2="258.80" stroke="#111111" stroke-width="1.0"/>
<text x="260.10" y="267.20" font-size="6.3" text-anchor="middle" font-weight="normal" font-style="normal" fill="#3a3a3a" stroke="#3a3a3a" stroke-width="0.04" >200</text>
<line x1="283.50" y1="255.50" x2="283.50" y2="258.80" stroke="#111111" stroke-width="1.0"/>
<text x="283.40" y="267.20" font-size="6.3" text-anchor="middle" font-weight="normal" font-style="normal" fill="#3a3a3a" stroke="#3a3a3a" stroke-width="0.04" >300</text>
<line x1="306.50" y1="255.50" x2="306.50" y2="258.80" stroke="#111111" stroke-width="1.0"/>
<text x="306.70" y="267.20" font-size="6.3" text-anchor="middle" font-weight="normal" font-style="normal" fill="#3a3a3a" stroke="#3a3a3a" stroke-width="0.04" >400</text>
<line x1="330.50" y1="255.50" x2="330.50" y2="258.80" stroke="#111111" stroke-width="1.0"/>
<text x="330.00" y="267.20" font-size="6.3" text-anchor="middle" font-weight="normal" font-style="normal" fill="#3a3a3a" stroke="#3a3a3a" stroke-width="0.04" >500</text>
<text transform="translate(186.3,213.5) rotate(-90)" font-size="7.3" text-anchor="middle" fill="#262626" stroke="#262626" stroke-width="0.16" textLength="35.8" lengthAdjust="spacingAndGlyphs">Abs 450nm</text>
<text x="269.00" y="279.30" font-size="7.5" text-anchor="middle" font-weight="normal" font-style="normal" fill="#262626" stroke="#262626" stroke-width="0.16" textLength="62.8" lengthAdjust="spacingAndGlyphs" >VWF fragments (nM)</text>
<polyline points="213.50,247.50 214.47,247.48 215.44,247.46 216.41,247.44 217.38,247.42 218.35,247.40 219.32,247.38 220.30,247.36 221.27,247.34 222.24,247.32 223.21,247.30 224.18,247.28 225.15,247.26 226.12,247.24 227.09,247.22 228.06,247.20 229.03,247.18 230.00,247.16 230.97,247.14 231.95,247.12 232.92,247.10 233.89,247.08 234.86,247.06 235.83,247.04 236.80,247.02 237.77,247.00 238.74,246.98 239.71,246.96 240.68,246.94 241.65,246.92 242.62,246.90 243.60,246.88 244.57,246.86 245.54,246.84 246.51,246.82 247.48,246.80 248.45,246.78 249.42,246.76 250.39,246.74 251.36,246.72 252.33,246.70 253.30,246.68 254.28,246.66 255.25,246.64 256.22,246.62 257.19,246.60 258.16,246.58 259.13,246.56 260.10,246.54 261.07,246.52 262.04,246.50 263.01,246.48 263.98,246.46 264.95,246.44 265.93,246.42 266.90,246.40 267.87,246.38 268.84,246.36 269.81,246.34 270.78,246.32 271.75,246.30 272.72,246.28 273.69,246.26 274.66,246.24 275.63,246.22 276.60,246.20 277.57,246.18 278.55,246.16 279.52,246.14 280.49,246.12 281.46,246.10 282.43,246.08 283.40,246.06 284.37,246.04 285.34,246.02 286.31,246.00 287.28,245.98 288.25,245.96 289.23,245.94 290.20,245.92 291.17,245.90 292.14,245.88 293.11,245.86 294.08,245.84 295.05,245.82 296.02,245.80 296.99,245.78 297.96,245.76 298.93,245.74 299.90,245.72 300.88,245.70 301.85,245.68 302.82,245.66 303.79,245.64 304.76,245.62 305.73,245.60 306.70,245.58 307.67,245.56 308.64,245.54 309.61,245.52 310.58,245.50 311.55,245.48 312.52,245.46 313.50,245.44 314.47,245.42 315.44,245.40 316.41,245.38 317.38,245.36 318.35,245.34 319.32,245.32 320.29,245.30 321.26,245.28 322.23,245.26 323.20,245.24 324.18,245.22 325.15,245.20 326.12,245.18 327.09,245.16 328.06,245.14 329.03,245.12 330.00,245.10" fill="none" stroke="#3fae4a" stroke-width="1.15"/>
<polyline points="213.50,247.50 214.47,247.47 215.44,247.43 216.41,247.40 217.38,247.36 218.35,247.32 219.32,247.29 220.30,247.25 221.27,247.22 222.24,247.19 223.21,247.15 224.18,247.12 225.15,247.08 226.12,247.04 227.09,247.01 228.06,246.97 229.03,246.94 230.00,246.91 230.97,246.87 231.95,246.84 232.92,246.80 233.89,246.76 234.86,246.73 235.83,246.69 236.80,246.66 237.77,246.62 238.74,246.59 239.71,246.56 240.68,246.52 241.65,246.49 242.62,246.45 243.60,246.41 244.57,246.38 245.54,246.34 246.51,246.31 247.48,246.28 248.45,246.24 249.42,246.21 250.39,246.17 251.36,246.13 252.33,246.10 253.30,246.06 254.28,246.03 255.25,246.00 256.22,245.96 257.19,245.93 258.16,245.89 259.13,245.85 260.10,245.82 261.07,245.78 262.04,245.75 263.01,245.72 263.98,245.68 264.95,245.65 265.93,245.61 266.90,245.57 267.87,245.54 268.84,245.50 269.81,245.47 270.78,245.44 271.75,245.40 272.72,245.37 273.69,245.33 274.66,245.29 275.63,245.26 276.60,245.22 277.57,245.19 278.55,245.16 279.52,245.12 280.49,245.09 281.46,245.05 282.43,245.01 283.40,244.98 284.37,244.94 285.34,244.91 286.31,244.88 287.28,244.84 288.25,244.81 289.23,244.77 290.20,244.74 291.17,244.70 292.14,244.66 293.11,244.63 294.08,244.59 295.05,244.56 296.02,244.53 296.99,244.49 297.96,244.46 298.93,244.42 299.90,244.38 300.88,244.35 301.85,244.31 302.82,244.28 303.79,244.25 304.76,244.21 305.73,244.18 306.70,244.14 307.67,244.10 308.64,244.07 309.61,244.03 310.58,244.00 311.55,243.97 312.52,243.93 313.50,243.90 314.47,243.86 315.44,243.82 316.41,243.79 317.38,243.75 318.35,243.72 319.32,243.69 320.29,243.65 321.26,243.62 322.23,243.58 323.20,243.54 324.18,243.51 325.15,243.47 326.12,243.44 327.09,243.41 328.06,243.37 329.03,243.34 330.00,243.30" fill="none" stroke="#1f5585" stroke-width="1.15"/>
<polyline points="213.50,247.50 214.47,246.77 215.44,246.06 216.41,245.36 217.38,244.67 218.35,243.99 219.32,243.32 220.30,242.66 221.27,242.02 222.24,241.38 223.21,240.75 224.18,240.14 225.15,239.53 226.12,238.93 227.09,238.34 228.06,237.76 229.03,237.19 230.00,236.63 230.97,236.07 231.95,235.52 232.92,234.99 233.89,234.45 234.86,233.93 235.83,233.42 236.80,232.91 237.77,232.41 238.74,231.91 239.71,231.42 240.68,230.94 241.65,230.47 242.62,230.00 243.60,229.54 244.57,229.08 245.54,228.63 246.51,228.19 247.48,227.75 248.45,227.32 249.42,226.89 250.39,226.47 251.36,226.06 252.33,225.65 253.30,225.24 254.28,224.84 255.25,224.45 256.22,224.06 257.19,223.67 258.16,223.29 259.13,222.91 260.10,222.54 261.07,222.18 262.04,221.81 263.01,221.46 263.98,221.10 264.95,220.75 265.93,220.41 266.90,220.06 267.87,219.73 268.84,219.39 269.81,219.06 270.78,218.73 271.75,218.41 272.72,218.09 273.69,217.78 274.66,217.47 275.63,217.16 276.60,216.85 277.57,216.55 278.55,216.25 279.52,215.95 280.49,215.66 281.46,215.37 282.43,215.09 283.40,214.80 284.37,214.52 285.34,214.25 286.31,213.97 287.28,213.70 288.25,213.43 289.23,213.17 290.20,212.90 291.17,212.64 292.14,212.38 293.11,212.13 294.08,211.88 295.05,211.62 296.02,211.38 296.99,211.13 297.96,210.89 298.93,210.65 299.90,210.41 300.88,210.17 301.85,209.94 302.82,209.71 303.79,209.48 304.76,209.25 305.73,209.03 306.70,208.80 307.67,208.58 308.64,208.36 309.61,208.15 310.58,207.93 311.55,207.72 312.52,207.51 313.50,207.30 314.47,207.09 315.44,206.89 316.41,206.68 317.38,206.48 318.35,206.28 319.32,206.08 320.29,205.89 321.26,205.69 322.23,205.50 323.20,205.31 324.18,205.12 325.15,204.93 326.12,204.74 327.09,204.56 328.06,204.38 329.03,204.20 330.00,204.02" fill="none" stroke="#c81e40" stroke-width="1.15"/>
<polygon points="214.41,245.70 215.61,246.90 214.41,248.10 213.21,246.90" fill="#2e7d36"/>
<polygon points="217.13,245.70 218.33,246.90 217.13,248.10 215.93,246.90" fill="#2e7d36"/>
<polygon points="228.06,245.40 229.26,246.60 228.06,247.80 226.86,246.60" fill="#2e7d36"/>
<line x1="271.75" y1="245.10" x2="271.75" y2="245.70" stroke="#2e7d36" stroke-width="0.6"/>
<line x1="270.45" y1="245.10" x2="273.05" y2="245.10" stroke="#2e7d36" stroke-width="0.6"/>
<line x1="270.45" y1="245.70" x2="273.05" y2="245.70" stroke="#2e7d36" stroke-width="0.6"/>
<polygon points="271.75,244.20 272.95,245.40 271.75,246.60 270.55,245.40" fill="#2e7d36"/>
<line x1="330.00" y1="244.20" x2="330.00" y2="245.40" stroke="#2e7d36" stroke-width="0.6"/>
<line x1="328.70" y1="244.20" x2="331.30" y2="244.20" stroke="#2e7d36" stroke-width="0.6"/>
<line x1="328.70" y1="245.40" x2="331.30" y2="245.40" stroke="#2e7d36" stroke-width="0.6"/>
<polygon points="330.00,243.60 331.20,244.80 330.00,246.00 328.80,244.80" fill="#2e7d36"/>
<polygon points="214.41,245.34 215.84,247.94 212.98,247.94" fill="#15375a"/>
<polygon points="217.13,245.34 218.56,247.94 215.70,247.94" fill="#15375a"/>
<polygon points="228.06,245.04 229.49,247.64 226.63,247.64" fill="#15375a"/>
<line x1="271.75" y1="241.20" x2="271.75" y2="247.20" stroke="#15375a" stroke-width="0.6"/>
<line x1="270.45" y1="241.20" x2="273.05" y2="241.20" stroke="#15375a" stroke-width="0.6"/>
<line x1="270.45" y1="247.20" x2="273.05" y2="247.20" stroke="#15375a" stroke-width="0.6"/>
<rect x="270.45" y="242.90" width="2.6" height="2.6" fill="#15375a"/>
<line x1="330.00" y1="237.60" x2="330.00" y2="248.40" stroke="#15375a" stroke-width="0.6"/>
<line x1="328.70" y1="237.60" x2="331.30" y2="237.60" stroke="#15375a" stroke-width="0.6"/>
<line x1="328.70" y1="248.40" x2="331.30" y2="248.40" stroke="#15375a" stroke-width="0.6"/>
<rect x="328.70" y="241.70" width="2.6" height="2.6" fill="#15375a"/>
<circle cx="213.97" cy="246.00" r="1.55" fill="#a0102e"/>
<line x1="214.41" y1="244.20" x2="214.41" y2="246.00" stroke="#c81e40" stroke-width="0.6"/>
<line x1="213.11" y1="244.20" x2="215.71" y2="244.20" stroke="#c81e40" stroke-width="0.6"/>
<line x1="213.11" y1="246.00" x2="215.71" y2="246.00" stroke="#c81e40" stroke-width="0.6"/>
<circle cx="214.41" cy="245.10" r="1.55" fill="#a0102e"/>
<line x1="215.32" y1="243.60" x2="215.32" y2="245.40" stroke="#c81e40" stroke-width="0.6"/>
<line x1="214.02" y1="243.60" x2="216.62" y2="243.60" stroke="#c81e40" stroke-width="0.6"/>
<line x1="214.02" y1="245.40" x2="216.62" y2="245.40" stroke="#c81e40" stroke-width="0.6"/>
<circle cx="215.32" cy="244.50" r="1.55" fill="#a0102e"/>
<circle cx="217.13" cy="243.60" r="1.55" fill="#a0102e"/>
<line x1="220.78" y1="240.30" x2="220.78" y2="242.10" stroke="#c81e40" stroke-width="0.6"/>
<line x1="219.48" y1="240.30" x2="222.08" y2="240.30" stroke="#c81e40" stroke-width="0.6"/>
<line x1="219.48" y1="242.10" x2="222.08" y2="242.10" stroke="#c81e40" stroke-width="0.6"/>
<circle cx="220.78" cy="241.20" r="1.55" fill="#a0102e"/>
<line x1="228.06" y1="234.30" x2="228.06" y2="237.90" stroke="#c81e40" stroke-width="0.6"/>
<line x1="226.76" y1="234.30" x2="229.36" y2="234.30" stroke="#c81e40" stroke-width="0.6"/>
<line x1="226.76" y1="237.90" x2="229.36" y2="237.90" stroke="#c81e40" stroke-width="0.6"/>
<circle cx="228.06" cy="236.10" r="1.55" fill="#a0102e"/>
<line x1="242.62" y1="226.20" x2="242.62" y2="235.20" stroke="#c81e40" stroke-width="0.6"/>
<line x1="241.32" y1="226.20" x2="243.93" y2="226.20" stroke="#c81e40" stroke-width="0.6"/>
<line x1="241.32" y1="235.20" x2="243.93" y2="235.20" stroke="#c81e40" stroke-width="0.6"/>
<circle cx="242.62" cy="230.70" r="1.55" fill="#a0102e"/>
<line x1="271.75" y1="210.90" x2="271.75" y2="225.30" stroke="#c81e40" stroke-width="0.6"/>
<line x1="270.45" y1="210.90" x2="273.05" y2="210.90" stroke="#c81e40" stroke-width="0.6"/>
<line x1="270.45" y1="225.30" x2="273.05" y2="225.30" stroke="#c81e40" stroke-width="0.6"/>
<circle cx="271.75" cy="218.10" r="1.55" fill="#a0102e"/>
<line x1="330.00" y1="192.60" x2="330.00" y2="214.80" stroke="#c81e40" stroke-width="0.6"/>
<line x1="328.70" y1="192.60" x2="331.30" y2="192.60" stroke="#c81e40" stroke-width="0.6"/>
<line x1="328.70" y1="214.80" x2="331.30" y2="214.80" stroke="#c81e40" stroke-width="0.6"/>
<circle cx="330.00" cy="203.70" r="1.55" fill="#a0102e"/>
<line x1="212.20" y1="183.20" x2="221.20" y2="183.20" stroke="#c81e40" stroke-width="1.1"/>
<circle cx="216.70" cy="183.20" r="1.5" fill="#a0102e"/>
<text x="224.00" y="185.60" font-size="6.6" text-anchor="start" font-weight="normal" font-style="normal" fill="#2e2e2e" stroke="#2e2e2e" stroke-width="0.1" >VWF-A1</text>
<line x1="212.20" y1="190.40" x2="221.20" y2="190.40" stroke="#1f5585" stroke-width="1.1"/>
<polygon points="216.70,188.60 218.35,191.60 215.05,191.60" fill="#15375a"/>
<text x="224.00" y="192.80" font-size="6.6" text-anchor="start" font-weight="normal" font-style="normal" fill="#2e2e2e" stroke="#2e2e2e" stroke-width="0.1" >VWF-A2</text>
<line x1="212.20" y1="196.50" x2="221.20" y2="196.50" stroke="#3fae4a" stroke-width="1.1"/>
<polygon points="216.70,195.00 218.20,196.50 216.70,198.00 215.20,196.50" fill="#2e7d36"/>
<text x="224.00" y="198.90" font-size="6.6" text-anchor="start" font-weight="normal" font-style="normal" fill="#2e2e2e" stroke="#2e2e2e" stroke-width="0.1" >VWF-A3</text>
<text x="446.50" y="164.40" font-size="8.4" text-anchor="middle" font-weight="normal" font-style="normal" fill="#262626" stroke="#262626" stroke-width="0.17" textLength="54.0" lengthAdjust="spacingAndGlyphs" >LRP1 cluster II</text>
<text x="435.1" y="175.4" font-size="6.6" fill="#262626" stroke="#262626" stroke-width="0.1" textLength="23.0" lengthAdjust="spacingAndGlyphs"><tspan font-style="italic">P</tspan> &lt; .001</text>
<line x1="382.80" y1="170.00" x2="382.80" y2="256.20" stroke="#111111" stroke-width="1.2"/>
<line x1="382.20" y1="255.60" x2="510.00" y2="255.60" stroke="#111111" stroke-width="1.2"/>
<line x1="379.60" y1="247.50" x2="382.80" y2="247.50" stroke="#111111" stroke-width="1.0"/>
<text x="376.40" y="250.40" font-size="6.3" text-anchor="end" font-weight="normal" font-style="normal" fill="#3a3a3a" stroke="#3a3a3a" stroke-width="0.04" >0.0</text>
<line x1="379.60" y1="232.50" x2="382.80" y2="232.50" stroke="#111111" stroke-width="1.0"/>
<text x="376.40" y="235.40" font-size="6.3" text-anchor="end" font-weight="normal" font-style="normal" fill="#3a3a3a" stroke="#3a3a3a" stroke-width="0.04" >0.5</text>
<line x1="379.60" y1="217.50" x2="382.80" y2="217.50" stroke="#111111" stroke-width="1.0"/>
<text x="376.40" y="220.40" font-size="6.3" text-anchor="end" font-weight="normal" font-style="normal" fill="#3a3a3a" stroke="#3a3a3a" stroke-width="0.04" >1.0</text>
<line x1="379.60" y1="202.50" x2="382.80" y2="202.50" stroke="#111111" stroke-width="1.0"/>
<text x="376.40" y="205.40" font-size="6.3" text-anchor="end" font-weight="normal" font-style="normal" fill="#3a3a3a" stroke="#3a3a3a" stroke-width="0.04" >1.5</text>
<line x1="379.60" y1="187.50" x2="382.80" y2="187.50" stroke="#111111" stroke-width="1.0"/>
<text x="376.40" y="190.40" font-size="6.3" text-anchor="end" font-weight="normal" font-style="normal" fill="#3a3a3a" stroke="#3a3a3a" stroke-width="0.04" >2.0</text>
<line x1="379.60" y1="172.50" x2="382.80" y2="172.50" stroke="#111111" stroke-width="1.0"/>
<text x="376.40" y="175.40" font-size="6.3" text-anchor="end" font-weight="normal" font-style="normal" fill="#3a3a3a" stroke="#3a3a3a" stroke-width="0.04" >2.5</text>
<line x1="390.50" y1="255.60" x2="390.50" y2="258.90" stroke="#111111" stroke-width="1.0"/>
<text x="391.00" y="267.20" font-size="6.3" text-anchor="middle" font-weight="normal" font-style="normal" fill="#3a3a3a" stroke="#3a3a3a" stroke-width="0.04" >0</text>
<line x1="414.50" y1="255.60" x2="414.50" y2="258.90" stroke="#111111" stroke-width="1.0"/>
<text x="414.28" y="267.20" font-size="6.3" text-anchor="middle" font-weight="normal" font-style="normal" fill="#3a3a3a" stroke="#3a3a3a" stroke-width="0.04" >100</text>
<line x1="437.50" y1="255.60" x2="437.50" y2="258.90" stroke="#111111" stroke-width="1.0"/>
<text x="437.56" y="267.20" font-size="6.3" text-anchor="middle" font-weight="normal" font-style="normal" fill="#3a3a3a" stroke="#3a3a3a" stroke-width="0.04" >200</text>
<line x1="460.50" y1="255.60" x2="460.50" y2="258.90" stroke="#111111" stroke-width="1.0"/>
<text x="460.84" y="267.20" font-size="6.3" text-anchor="middle" font-weight="normal" font-style="normal" fill="#3a3a3a" stroke="#3a3a3a" stroke-width="0.04" >300</text>
<line x1="484.50" y1="255.60" x2="484.50" y2="258.90" stroke="#111111" stroke-width="1.0"/>
<text x="484.12" y="267.20" font-size="6.3" text-anchor="middle" font-weight="normal" font-style="normal" fill="#3a3a3a" stroke="#3a3a3a" stroke-width="0.04" >400</text>
<line x1="507.50" y1="255.60" x2="507.50" y2="258.90" stroke="#111111" stroke-width="1.0"/>
<text x="507.40" y="267.20" font-size="6.3" text-anchor="middle" font-weight="normal" font-style="normal" fill="#3a3a3a" stroke="#3a3a3a" stroke-width="0.04" >500</text>
<text transform="translate(363.6,214.0) rotate(-90)" font-size="7.3" text-anchor="middle" fill="#262626" stroke="#262626" stroke-width="0.16" textLength="35.8" lengthAdjust="spacingAndGlyphs">Abs 450nm</text>
<text x="446.70" y="279.30" font-size="7.5" text-anchor="middle" font-weight="normal" font-style="normal" fill="#262626" stroke="#262626" stroke-width="0.16" textLength="62.6" lengthAdjust="spacingAndGlyphs" >VWF fragments (nM)</text>
<polyline points="391.00,246.90 391.97,246.89 392.94,246.89 393.91,246.88 394.88,246.88 395.85,246.87 396.82,246.86 397.79,246.86 398.76,246.85 399.73,246.84 400.70,246.84 401.67,246.83 402.64,246.82 403.61,246.82 404.58,246.81 405.55,246.81 406.52,246.80 407.49,246.79 408.46,246.79 409.43,246.78 410.40,246.78 411.37,246.77 412.34,246.76 413.31,246.76 414.28,246.75 415.25,246.74 416.22,246.74 417.19,246.73 418.16,246.72 419.13,246.72 420.10,246.71 421.07,246.71 422.04,246.70 423.01,246.69 423.98,246.69 424.95,246.68 425.92,246.68 426.89,246.67 427.86,246.66 428.83,246.66 429.80,246.65 430.77,246.64 431.74,246.64 432.71,246.63 433.68,246.62 434.65,246.62 435.62,246.61 436.59,246.61 437.56,246.60 438.53,246.59 439.50,246.59 440.47,246.58 441.44,246.57 442.41,246.57 443.38,246.56 444.35,246.56 445.32,246.55 446.29,246.54 447.26,246.54 448.23,246.53 449.20,246.53 450.17,246.52 451.14,246.51 452.11,246.51 453.08,246.50 454.05,246.49 455.02,246.49 455.99,246.48 456.96,246.47 457.93,246.47 458.90,246.46 459.87,246.46 460.84,246.45 461.81,246.44 462.78,246.44 463.75,246.43 464.72,246.43 465.69,246.42 466.66,246.41 467.63,246.41 468.60,246.40 469.57,246.39 470.54,246.39 471.51,246.38 472.48,246.38 473.45,246.37 474.42,246.36 475.39,246.36 476.36,246.35 477.33,246.34 478.30,246.34 479.27,246.33 480.24,246.32 481.21,246.32 482.18,246.31 483.15,246.31 484.12,246.30 485.09,246.29 486.06,246.29 487.03,246.28 488.00,246.28 488.97,246.27 489.94,246.26 490.91,246.26 491.88,246.25 492.85,246.24 493.82,246.24 494.79,246.23 495.76,246.22 496.73,246.22 497.70,246.21 498.67,246.21 499.64,246.20 500.61,246.19 501.58,246.19 502.55,246.18 503.52,246.18 504.49,246.17 505.46,246.16 506.43,246.16 507.40,246.15" fill="none" stroke="#3fae4a" stroke-width="1.15"/>
<polyline points="391.00,246.90 391.97,246.90 392.94,246.89 393.91,246.88 394.88,246.88 395.85,246.88 396.82,246.87 397.79,246.87 398.76,246.86 399.73,246.85 400.70,246.85 401.67,246.84 402.64,246.84 403.61,246.84 404.58,246.83 405.55,246.82 406.52,246.82 407.49,246.81 408.46,246.81 409.43,246.81 410.40,246.80 411.37,246.79 412.34,246.79 413.31,246.78 414.28,246.78 415.25,246.78 416.22,246.77 417.19,246.76 418.16,246.76 419.13,246.75 420.10,246.75 421.07,246.75 422.04,246.74 423.01,246.74 423.98,246.73 424.95,246.72 425.92,246.72 426.89,246.72 427.86,246.71 428.83,246.71 429.80,246.70 430.77,246.69 431.74,246.69 432.71,246.69 433.68,246.68 434.65,246.68 435.62,246.67 436.59,246.66 437.56,246.66 438.53,246.66 439.50,246.65 440.47,246.65 441.44,246.64 442.41,246.63 443.38,246.63 444.35,246.62 445.32,246.62 446.29,246.62 447.26,246.61 448.23,246.60 449.20,246.60 450.17,246.59 451.14,246.59 452.11,246.59 453.08,246.58 454.05,246.57 455.02,246.57 455.99,246.56 456.96,246.56 457.93,246.56 458.90,246.55 459.87,246.54 460.84,246.54 461.81,246.53 462.78,246.53 463.75,246.53 464.72,246.52 465.69,246.51 466.66,246.51 467.63,246.50 468.60,246.50 469.57,246.50 470.54,246.49 471.51,246.49 472.48,246.48 473.45,246.47 474.42,246.47 475.39,246.47 476.36,246.46 477.33,246.46 478.30,246.45 479.27,246.44 480.24,246.44 481.21,246.44 482.18,246.43 483.15,246.43 484.12,246.42 485.09,246.41 486.06,246.41 487.03,246.41 488.00,246.40 488.97,246.40 489.94,246.39 490.91,246.38 491.88,246.38 492.85,246.38 493.82,246.37 494.79,246.37 495.76,246.36 496.73,246.35 497.70,246.35 498.67,246.34 499.64,246.34 500.61,246.34 501.58,246.33 502.55,246.32 503.52,246.32 504.49,246.31 505.46,246.31 506.43,246.31 507.40,246.30" fill="none" stroke="#1f5585" stroke-width="1.15"/>
<polyline points="391.00,247.50 391.97,247.14 392.94,246.79 393.91,246.45 394.88,246.11 395.85,245.78 396.82,245.47 397.79,245.15 398.76,244.85 399.73,244.55 400.70,244.26 401.67,243.98 402.64,243.70 403.61,243.43 404.58,243.16 405.55,242.90 406.52,242.64 407.49,242.39 408.46,242.15 409.43,241.91 410.40,241.68 411.37,241.45 412.34,241.22 413.31,241.00 414.28,240.78 415.25,240.57 416.22,240.36 417.19,240.16 418.16,239.95 419.13,239.76 420.10,239.56 421.07,239.37 422.04,239.19 423.01,239.00 423.98,238.82 424.95,238.65 425.92,238.47 426.89,238.30 427.86,238.13 428.83,237.97 429.80,237.81 430.77,237.65 431.74,237.49 432.71,237.33 433.68,237.18 434.65,237.03 435.62,236.89 436.59,236.74 437.56,236.60 438.53,236.46 439.50,236.32 440.47,236.18 441.44,236.05 442.41,235.92 443.38,235.79 444.35,235.66 445.32,235.53 446.29,235.41 447.26,235.29 448.23,235.17 449.20,235.05 450.17,234.93 451.14,234.81 452.11,234.70 453.08,234.59 454.05,234.48 455.02,234.37 455.99,234.26 456.96,234.15 457.93,234.05 458.90,233.95 459.87,233.84 460.84,233.74 461.81,233.64 462.78,233.55 463.75,233.45 464.72,233.35 465.69,233.26 466.66,233.17 467.63,233.07 468.60,232.98 469.57,232.89 470.54,232.80 471.51,232.72 472.48,232.63 473.45,232.54 474.42,232.46 475.39,232.38 476.36,232.29 477.33,232.21 478.30,232.13 479.27,232.05 480.24,231.97 481.21,231.90 482.18,231.82 483.15,231.74 484.12,231.67 485.09,231.60 486.06,231.52 487.03,231.45 488.00,231.38 488.97,231.31 489.94,231.24 490.91,231.17 491.88,231.10 492.85,231.03 493.82,230.96 494.79,230.90 495.76,230.83 496.73,230.77 497.70,230.70 498.67,230.64 499.64,230.58 500.61,230.51 501.58,230.45 502.55,230.39 503.52,230.33 504.49,230.27 505.46,230.21 506.43,230.15 507.40,230.10" fill="none" stroke="#c81e40" stroke-width="1.15"/>
<polygon points="391.91,245.70 393.11,246.90 391.91,248.10 390.71,246.90" fill="#2e7d36"/>
<polygon points="394.63,245.70 395.83,246.90 394.63,248.10 393.43,246.90" fill="#2e7d36"/>
<polygon points="405.55,245.70 406.75,246.90 405.55,248.10 404.35,246.90" fill="#2e7d36"/>
<polygon points="449.20,245.40 450.40,246.60 449.20,247.80 448.00,246.60" fill="#2e7d36"/>
<polygon points="507.40,244.80 508.60,246.00 507.40,247.20 506.20,246.00" fill="#2e7d36"/>
<rect x="390.71" y="245.70" width="2.4" height="2.4" fill="#15375a"/>
<rect x="393.43" y="245.70" width="2.4" height="2.4" fill="#15375a"/>
<rect x="404.35" y="245.70" width="2.4" height="2.4" fill="#15375a"/>
<rect x="448.00" y="245.40" width="2.4" height="2.4" fill="#15375a"/>
<rect x="506.20" y="245.10" width="2.4" height="2.4" fill="#15375a"/>
<circle cx="391.47" cy="246.90" r="1.55" fill="#a0102e"/>
<circle cx="391.91" cy="246.60" r="1.55" fill="#a0102e"/>
<circle cx="392.82" cy="246.00" r="1.55" fill="#a0102e"/>
<circle cx="394.63" cy="245.40" r="1.55" fill="#a0102e"/>
<circle cx="398.27" cy="243.60" r="1.55" fill="#a0102e"/>
<circle cx="405.55" cy="242.10" r="1.55" fill="#a0102e"/>
<circle cx="420.10" cy="239.10" r="1.55" fill="#a0102e"/>
<circle cx="449.20" cy="235.05" r="1.55" fill="#a0102e"/>
<circle cx="507.40" cy="230.10" r="1.55" fill="#a0102e"/>
<line x1="389.60" y1="183.50" x2="398.50" y2="183.50" stroke="#c81e40" stroke-width="1.1"/>
<circle cx="394.05" cy="183.50" r="1.5" fill="#a0102e"/>
<text x="401.60" y="185.90" font-size="6.6" text-anchor="start" font-weight="normal" font-style="normal" fill="#2e2e2e" stroke="#2e2e2e" stroke-width="0.1" >VWF-A1</text>
<line x1="389.60" y1="190.40" x2="398.50" y2="190.40" stroke="#1f5585" stroke-width="1.1"/>
<polygon points="394.05,188.60 395.70,191.60 392.40,191.60" fill="#15375a"/>
<text x="401.60" y="192.80" font-size="6.6" text-anchor="start" font-weight="normal" font-style="normal" fill="#2e2e2e" stroke="#2e2e2e" stroke-width="0.1" >VWF-A2</text>
<line x1="389.60" y1="196.40" x2="398.50" y2="196.40" stroke="#3fae4a" stroke-width="1.1"/>
<polygon points="394.05,194.90 395.55,196.40 394.05,197.90 392.55,196.40" fill="#2e7d36"/>
<text x="401.60" y="198.80" font-size="6.6" text-anchor="start" font-weight="normal" font-style="normal" fill="#2e2e2e" stroke="#2e2e2e" stroke-width="0.1" >VWF-A3</text>
<rect x="0.5" y="0.5" width="519" height="288" fill="none" stroke="#585858" stroke-width="1"/>
</svg>
</body></html>
